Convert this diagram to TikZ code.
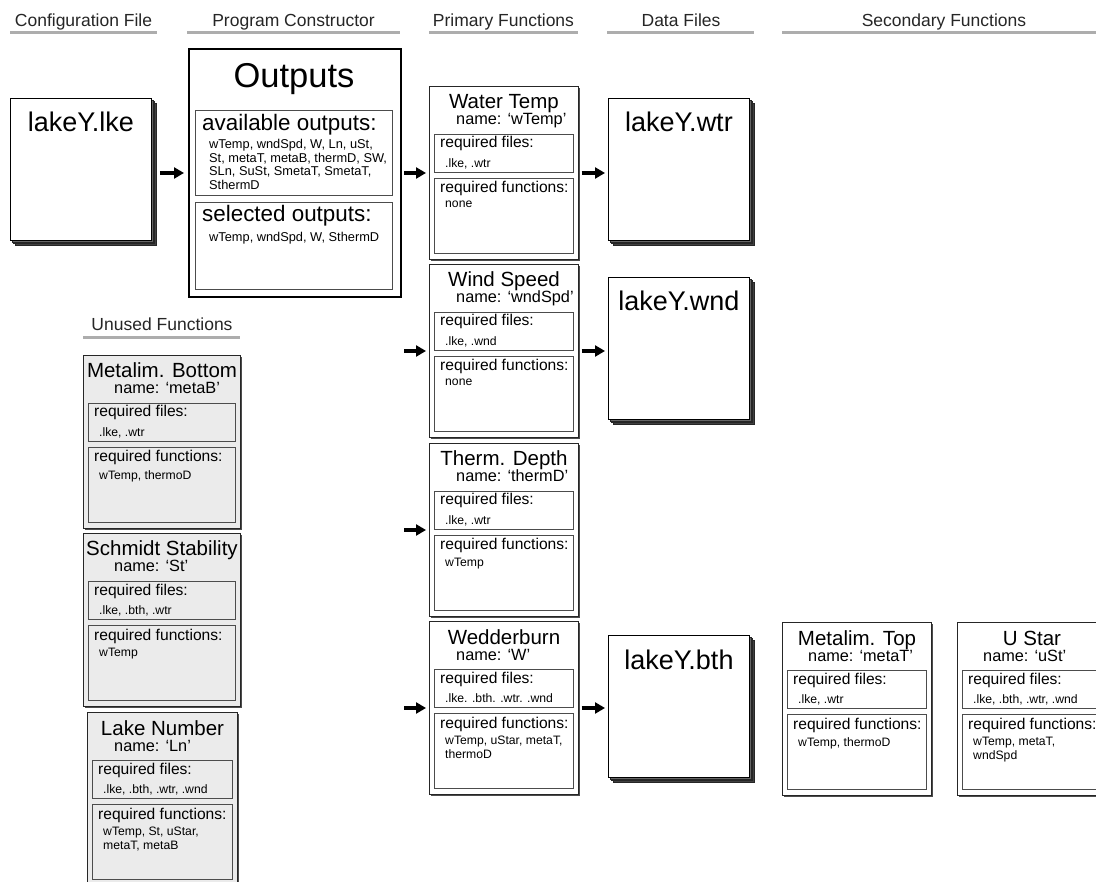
\documentclass[tikz,border=0pt]{standalone}
\usepackage{fontspec}
\setmainfont{Liberation Sans}
\usetikzlibrary{arrows.meta,shadows}

\tikzset{
 hdr/.style={font=\fontsize{17.5}{20}\selectfont, text=black!85, inner sep=0pt},
 hline/.style={line width=3pt, draw=black!32},
 arr/.style={line width=3.2pt, -{Triangle[length=10pt,width=11pt]}},
 outerbox/.style={draw=black!85, line width=1pt, minimum height=173pt, inner sep=0pt,
   drop shadow={shadow xshift=1.5pt, shadow yshift=-1.5pt, fill=black!70, opacity=1}},
 innerbox/.style={draw=black!70, line width=0.8pt, inner sep=0pt},
 ttl/.style={font=\fontsize{20.5}{24}\selectfont, inner sep=0pt},
 nm/.style={font=\fontsize{16.3}{18}\selectfont, inner sep=0pt},
 lbl/.style={font=\fontsize{15.6}{18}\selectfont, inner sep=0pt},
 itm/.style={font=\fontsize{12.2}{14}\selectfont, inner sep=0pt, align=left},
 filebox/.style={draw=black, line width=0.9pt, fill=white, minimum width=141pt, minimum height=142pt, inner sep=0pt},
 ftxt/.style={font=\fontsize{27}{31}\selectfont, inner sep=0pt},
 outlbl/.style={font=\fontsize{22.4}{26}\selectfont, inner sep=0pt},
 outitm/.style={font=\fontsize{12.8}{13.7}\selectfont, inner sep=0pt, align=left},
}
\colorlet{unusedfill}{black!8}
\def\nmx{27}

% id, x, y, width, fill, title, name, files, functions
\newcommand{\fnbox}[9]{%
 \node[outerbox, fill=#5, minimum width=#4pt, anchor=north west] (#1) at (#2,#3) {};
 \node[innerbox, fill=#5, minimum width={(#4-10)*1pt}, minimum height=38pt, anchor=north west] (#1f) at ([shift={(5,48)}]#1.north west) {};
 \node[innerbox, fill=#5, minimum width={(#4-10)*1pt}, minimum height=75pt, anchor=north west] (#1g) at ([shift={(5,92)}]#1.north west) {};
 \node[ttl, anchor=base] (#1t) at ([shift={(0,23)}]#1.north) {#6};
 \node[nm, anchor=base west] (#1n) at ([shift={(\nmx,39)}]#1.north west) {#7};
 \node[lbl, anchor=base west] (#1fl) at ([shift={(6,14)}]#1f.north west) {required files:};
 \node[itm, anchor=north west] (#1fi) at ([shift={(11,24.1)}]#1f.north west) {#8};
 \node[lbl, anchor=base west] (#1gl) at ([shift={(6,15)}]#1g.north west) {required functions:};
 \node[itm, anchor=north west] (#1gi) at ([shift={(11,23.1)}]#1g.north west) {#9};
}

% id, x, y, text
\newcommand{\datafile}[4]{%
 \foreach \o/\c in {5/black!75, 3.5/black!40, 2/black!60} {%
   \draw[fill=\c, draw=black!85, line width=0.6pt] (#2+\o,#3+\o) rectangle ++(141,142);}
 \node[filebox, anchor=north west] (#1) at (#2,#3) {};
 \node[ftxt, anchor=base] (#1t) at ([shift={(0,34)}]#1.north) {#4};
}

\begin{document}
\begin{tikzpicture}[x=1pt,y=-1pt]
\fill[white] (0,0) rectangle (1096,882);
\useasboundingbox (0,0) rectangle (1096,882);

% headers
\node[hdr, anchor=base] (h1) at (83.5,27) {Configuration File};
\draw[hline] (10,33) -- (157,33);
\node[hdr, anchor=base] (h2) at (293.5,27) {Program Constructor};
\draw[hline] (187,33) -- (400,33);
\node[hdr, anchor=base] (h3) at (503.5,27) {Primary Functions};
\draw[hline] (429,33) -- (578,33);
\node[hdr, anchor=base] (h4) at (681,27) {Data Files};
\draw[hline] (607,33) -- (754,33);
\node[hdr, anchor=base] (h5) at (944,27) {Secondary Functions};
\draw[hline] (782,33) -- (1096,33);
\node[hdr, anchor=base] (h6) at (162,331) {Unused Functions};
\draw[hline] (83,338) -- (240,338);

% configuration file
\datafile{lke}{10}{98}{lakeY.lke}

% program constructor
\node[draw=black, line width=1.8pt, fill=white, minimum width=212pt, minimum height=248pt, anchor=north west, inner sep=0pt,
  drop shadow={shadow xshift=1.2pt, shadow yshift=-1.2pt, fill=black!55, opacity=1}] (outp) at (188,48) {};
\node[font=\fontsize{34.5}{40}\selectfont, inner sep=0pt, anchor=base] (outt) at (294,88) {Outputs};
\node[innerbox, minimum width=197pt, minimum height=85pt, anchor=north west] (avail) at (195,110) {};
\node[outlbl, anchor=base west] (availl) at (202,131) {available outputs:};
\node[outitm, anchor=north west] (availi) at (209,139.1) {wTemp, wndSpd, W, Ln, uSt,\\St, metaT, metaB, thermD, SW,\\SLn, SuSt, SmetaT, SmetaT,\\SthermD};
\node[innerbox, minimum width=197pt, minimum height=87pt, anchor=north west] (sel) at (195,202) {};
\node[outlbl, anchor=base west] (sell) at (202,222) {selected outputs:};
\node[outitm, anchor=north west] (seli) at (209,232.1) {wTemp, wndSpd, W, SthermD};

% primary functions
\fnbox{wt}{429}{86}{149}{white}{Water Temp}{name: ‘wTemp’}{.lke, .wtr}{none}
\fnbox{ws}{429}{264}{149}{white}{Wind Speed}{name: ‘wndSpd’}{.lke, .wnd}{none}
\fnbox{td}{429}{443}{149}{white}{Therm. Depth}{name: ‘thermD’}{.lke, .wtr}{wTemp}
\fnbox{wb}{429}{621}{149}{white}{Wedderburn}{name: ‘W’}{.lke. .bth. .wtr. .wnd}{wTemp, uStar, metaT,\\thermoD}

% data files
\datafile{wtr}{608}{98}{lakeY.wtr}
\datafile{wnd}{608}{277}{lakeY.wnd}
\datafile{bth}{608}{635}{lakeY.bth}

% secondary functions
\def\nmx{26}
\fnbox{mt}{782}{622}{149}{white}{Metalim. Top}{name: ‘metaT’}{.lke, .wtr}{wTemp, thermoD}
\fnbox{us}{957}{622}{149}{white}{U Star}{name: ‘uSt’}{.lke, .bth, .wtr, .wnd}{wTemp, metaT,\\wndSpd}

% unused functions
\def\nmx{31}
\fnbox{mb}{83}{355}{157}{unusedfill}{Metalim. Bottom}{name: ‘metaB’}{.lke, .wtr}{wTemp, thermoD}
\fnbox{ss}{83}{533}{157}{unusedfill}{Schmidt Stability}{name: ‘St’}{.lke, .bth, .wtr}{wTemp}
\def\nmx{27}
\fnbox{ln}{87}{712}{150}{unusedfill}{Lake Number}{name: ‘Ln’}{.lke, .bth, .wtr, .wnd}{wTemp, St, uStar,\\metaT, metaB}

% connectors
\draw[arr, shorten <=8pt, shorten >=4pt] (lke.east |- wt.west) -- (outp.west |- wt.west);
\draw[arr, shorten <=2.5pt, shorten >=3pt] (outp.east |- wt.west) -- (wt.west);
\coordinate (wsin) at ([xshift=2.5pt]outp.east |- ws.west);
\coordinate (tdin) at ([xshift=2.5pt]outp.east |- td.west);
\coordinate (wbin) at ([xshift=2.5pt]outp.east |- wb.west);
\draw[arr, shorten >=3pt] (wsin) -- (ws.west);
\draw[arr, shorten >=3pt] (tdin) -- (td.west);
\draw[arr, shorten >=3pt] (wbin) -- (wb.west);
\draw[arr, shorten <=2.5pt, shorten >=3pt] (wt.east) -- (wtr.west |- wt.east);
\draw[arr, shorten <=2.5pt, shorten >=3pt] (ws.east) -- (wnd.west |- ws.east);
\draw[arr, shorten <=2.5pt, shorten >=3pt] (wb.east) -- (bth.west |- wb.east);
\end{tikzpicture}
\end{document}
